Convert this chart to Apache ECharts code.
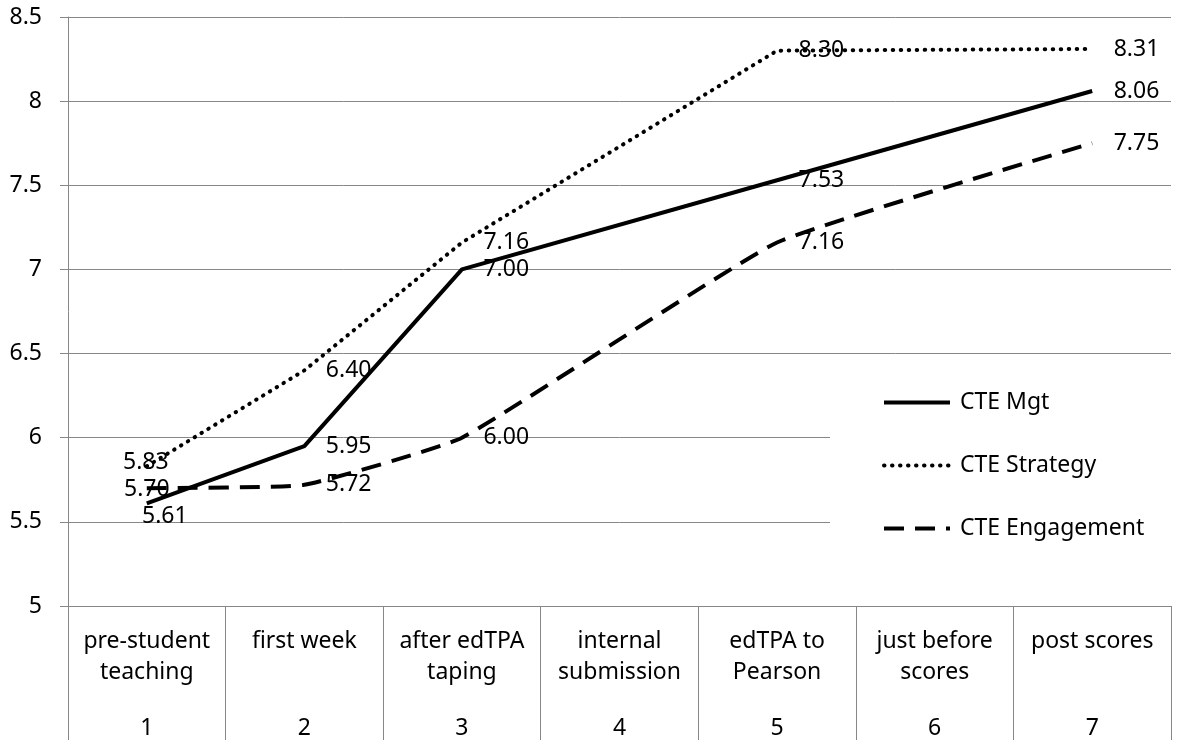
<!DOCTYPE html>
<html>
<head>
<meta charset="utf-8">
<script src="https://cdn.jsdelivr.net/npm/echarts@6/dist/echarts.min.js"></script>
<style>
  html, body { margin: 0; padding: 0; background: #fff; }
  #chart { width: 1178px; height: 740px; }
</style>
</head>
<body>
<div id="chart"></div>
<script>
// categories (two-level x axis)
const stageNames = [
  "pre-student\nteaching",
  "first week",
  "after edTPA\ntaping",
  "internal\nsubmission",
  "edTPA to\nPearson",
  "just before\nscores",
  "post scores",
];
const stageNumbers = ["1", "2", "3", "4", "5", "6", "7"];

// series values (null = no value, line connects across)
const mgtValues = [5.61, 5.95, 7.0, null, 7.53, null, 8.06];
const strategyValues = [5.83, 6.4, 7.16, null, 8.3, null, 8.31];
const engagementValues = [5.7, 5.72, 6.0, null, 7.16, null, 7.75];

const seriesNames = ["CTE Mgt", "CTE Strategy", "CTE Engagement"];

// y axis
const yMin = 5;
const yMax = 8.5;
const yStep = 0.5;

const FONT = "Noto Sans";
const GRAY = "#878787";

const chart = echarts.init(document.getElementById("chart"));

// 첫 번째 점의 라벨 위치는 따로 지정
function withFirstLabel(values, labelOpt) {
  return values.map((v, i) =>
    i === 0 && v !== null ? { value: v, label: labelOpt } : v
  );
}

const baseLabel = {
  show: true,
  position: "right",
  distance: 21,
  color: "#000",
  fontFamily: FONT,
  fontSize: 23,
  formatter: (p) => Number(p.value).toFixed(2),
};

const option = {
  backgroundColor: "#fff",
  animation: false,
  grid: {
    left: 68,
    right: 7,
    top: 17,
    bottom: 134,
    containLabel: false,
    outerBoundsMode: "none",
  },
  legend: {
    data: seriesNames,
    orient: "vertical",
    left: 830,
    top: 366,
    backgroundColor: "#fff",
    padding: [25, 40, 25, 52],
    itemWidth: 66,
    itemHeight: 20,
    itemGap: 40,
    lineStyle: { width: 4 },
    textStyle: {
      color: "#000",
      fontFamily: FONT,
      fontSize: 23,
      padding: [0, 0, 0, 5],
    },
  },
  xAxis: {
    type: "category",
    data: stageNames,
    boundaryGap: true,
    axisLine: { show: true, lineStyle: { color: GRAY, width: 1 } },
    axisTick: {
      show: true,
      length: 134,
      alignWithLabel: false,
      lineStyle: { color: GRAY, width: 1 },
    },
    axisLabel: {
      interval: 0,
      margin: 20,
      verticalAlign: "top",
      formatter: (value, idx) => {
        const lines = value.split("\n");
        while (lines.length < 2) lines.push(" ");
        return (
          lines.map((l) => "{a|" + l + "}").join("\n") +
          "\n{n|" + stageNumbers[idx] + "}"
        );
      },
      rich: {
        a: { fontFamily: FONT, fontSize: 23, color: "#000", lineHeight: 31 },
        n: { fontFamily: FONT, fontSize: 23, color: "#000", lineHeight: 81 },
      },
    },
    splitLine: { show: false },
  },
  yAxis: {
    type: "value",
    min: yMin,
    max: yMax,
    interval: yStep,
    axisLine: { show: true, lineStyle: { color: GRAY, width: 1 } },
    axisTick: { show: true, length: 8, lineStyle: { color: GRAY, width: 1 } },
    axisLabel: {
      margin: 26,
      color: "#000",
      fontFamily: FONT,
      fontSize: 23,
    },
    splitLine: { show: true, lineStyle: { color: GRAY, width: 1 } },
  },
  series: [
    {
      name: seriesNames[0],
      type: "line",
      data: withFirstLabel(mgtValues, {
        position: "bottom",
        distance: 0,
        offset: [18, 1],
      }),
      connectNulls: true,
      symbol: "circle",
      symbolSize: 1,
      showSymbol: true,
      itemStyle: { color: "rgba(0,0,0,0)" },
      lineStyle: { color: "#000", width: 4, type: "solid" },
      label: baseLabel,
      z: 4,
    },
    {
      name: seriesNames[1],
      type: "line",
      data: withFirstLabel(strategyValues, {
        position: "inside",
        offset: [-1, -4],
      }),
      connectNulls: true,
      symbol: "circle",
      symbolSize: 1,
      showSymbol: true,
      itemStyle: { color: "rgba(0,0,0,0)" },
      lineStyle: { color: "#000", width: 4, type: [0.5, 7.5], cap: "round" },
      label: baseLabel,
      z: 3,
    },
    {
      name: seriesNames[2],
      type: "line",
      data: withFirstLabel(engagementValues, {
        position: "inside",
        offset: [0, 1],
      }),
      connectNulls: true,
      smooth: 0.12,
      symbol: "circle",
      symbolSize: 1,
      showSymbol: true,
      itemStyle: { color: "rgba(0,0,0,0)" },
      lineStyle: { color: "#000", width: 4, type: [20, 11] },
      label: baseLabel,
      z: 2,
    },
  ],
};

chart.setOption(option);
</script>
</body>
</html>
